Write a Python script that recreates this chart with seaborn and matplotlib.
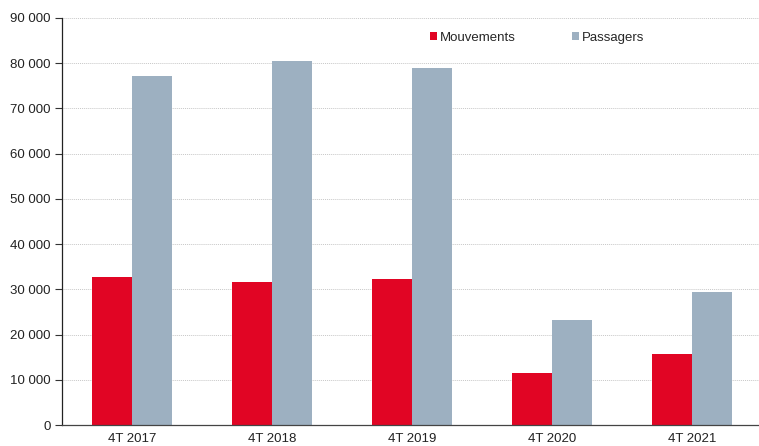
import pandas as pd
import matplotlib.pyplot as plt
import seaborn as sns
from matplotlib.ticker import FuncFormatter, MultipleLocator

# Données
trimestres = ['4T 2017', '4T 2018', '4T 2019', '4T 2020', '4T 2021']
mouvements = [32700, 31600, 32300, 11400, 15700]
passagers = [77200, 80500, 78900, 23200, 29400]

df = pd.DataFrame({
    'trimestre': trimestres * 2,
    'valeur': mouvements + passagers,
    'serie': ['Mouvements'] * 5 + ['Passagers'] * 5,
})

sns.set_style('white')
plt.rcParams['font.family'] = ['Liberation Sans', 'DejaVu Sans']

fig = plt.figure(figsize=(7.59, 4.46), dpi=100)
ax = fig.add_axes([62 / 759, 21 / 446, 700 / 759, 407 / 446])

sns.barplot(data=df, x='trimestre', y='valeur', hue='serie', ax=ax,
            palette=['#e10524', '#9db0c1'], width=0.572, gap=0,
            linewidth=0, saturation=1)

ax.set_ylim(0, 90000)
ax.set_xlim(-0.5, 4.5)
ax.yaxis.set_major_locator(MultipleLocator(10000))
ax.yaxis.set_major_formatter(FuncFormatter(lambda v, p: f'{int(v):,}'.replace(',', ' ')))
ax.grid(axis='y', color='#c8c8c8', linestyle=(0, (1, 1)), linewidth=0.7)
ax.set_axisbelow(True)

# graduations entre les groupes
ax.set_xticks([-0.5, 0.5, 1.5, 2.5, 3.5, 4.5])
ax.set_xticklabels([])
ax.set_xticks(range(5), minor=True)
ax.set_xticklabels(trimestres, minor=True)
ax.tick_params(axis='x', which='major', length=4, width=0.8, color='#333333', direction='out')
ax.tick_params(axis='x', which='minor', length=0, labelsize=9.5, pad=6, colors='#222222')
ax.tick_params(axis='y', length=5, width=0.8, color='#333333', labelsize=9.5, pad=3,
               labelcolor='#222222', left=True, direction='out')

for s in ['top', 'right']:
    ax.spines[s].set_visible(False)
ax.spines['left'].set_color('#222222')
ax.spines['left'].set_linewidth(0.9)
ax.spines['bottom'].set_color('#444444')
ax.spines['bottom'].set_linewidth(0.9)

ax.set_xlabel('')
ax.set_ylabel('')

ax.legend(loc='upper left', bbox_to_anchor=(0.509, 0.995), ncol=2, frameon=False,
          fontsize=9.5, handlelength=0.55, handleheight=0.55, handletextpad=0.2,
          columnspacing=4.25)

fig.savefig('out.png', dpi=100)
